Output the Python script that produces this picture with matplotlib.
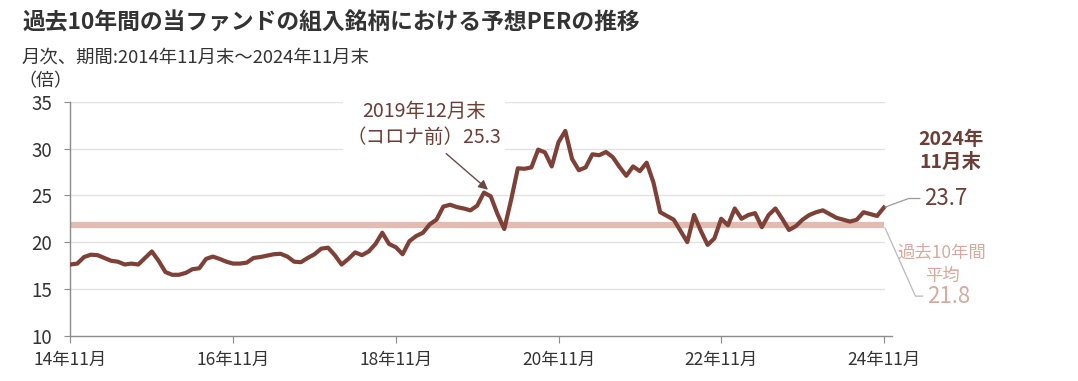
import matplotlib
matplotlib.use("Agg")
import matplotlib.pyplot as plt

plt.rcParams['font.family'] = ['Noto Sans CJK JP', 'DejaVu Sans']

# ---- data (monthly, 2014/11 - 2024/11) ----
per_values = [
    17.6, 17.7, 18.4, 18.65, 18.6, 18.3, 18.0, 17.9, 17.6, 17.7,   # m0-9
    17.6, 18.3, 19.0, 18.0, 16.8, 16.5, 16.5, 16.7, 17.1, 17.2,     # m10-19
    18.2, 18.45, 18.2, 17.9, 17.7, 17.7, 17.8, 18.3, 18.4, 18.55,   # m20-29
    18.7, 18.75, 18.45, 17.9, 17.85, 18.3, 18.7, 19.3, 19.4, 18.6,  # m30-39
    17.6, 18.2, 18.9, 18.6, 19.0, 19.8, 21.0, 19.8, 19.45, 18.7,    # m40-49
    20.1, 20.65, 21.0, 21.9, 22.4, 23.8, 24.0, 23.75, 23.6, 23.4,   # m50-59
    23.9, 25.3, 24.9, 23.0, 21.4, 24.5, 27.9, 27.85, 28.0, 29.9,    # m60-69
    29.6, 28.1, 30.7, 31.9, 28.9, 27.7, 28.0, 29.4, 29.3, 29.65,    # m70-79
    29.1, 28.05, 27.1, 28.1, 27.6, 28.5, 26.4, 23.2, 22.8, 22.4,    # m80-89
    21.2, 20.0, 22.9, 21.2, 19.7, 20.4, 22.5, 21.8, 23.6, 22.5,     # m90-99
    22.9, 23.1, 21.6, 22.9, 23.6, 22.5, 21.3, 21.7, 22.4, 22.9,     # m100-109
    23.2, 23.4, 23.0, 22.6, 22.4, 22.2, 22.4, 23.2, 23.0, 22.8,     # m110-119
    23.7,                                                           # m120
]
months = list(range(len(per_values)))
average_per = 21.8
xtick_months = [0, 24, 48, 72, 96, 120]
xtick_labels = ["14年11月", "16年11月", "18年11月", "20年11月", "22年11月", "24年11月"]
yticks = [10, 15, 20, 25, 30, 35]
precovid_month = 61
precovid_value = 25.3

title = "過去10年間の当ファンドの組入銘柄における予想PERの推移"
subtitle = "月次、期間:2014年11月末～2024年11月末"
unit = "（倍）"

LINE = "#7d4137"
AVG = "#e4bbb1"
AVG_TEXT = "#d6aa9f"
GRID = "#e2e2e2"
AXIS = "#8c8c8c"
TXT = "#333333"

fig = plt.figure(figsize=(10.78, 3.81), dpi=100)
ax = fig.add_axes([70 / 1078, 45.5 / 381, 822 / 1078, 233.5 / 381])

ax.set_xlim(-0.07, 121.2)
ax.set_ylim(10, 35)

for y in yticks[1:]:
    ax.plot([0, months[-1]], [y, y], color=GRID, lw=1.0, zorder=1)

ax.plot([0, months[-1]], [average_per, average_per], color=AVG, lw=4.5,
        solid_capstyle='butt', zorder=2)
ax.plot(months, per_values, color=LINE, lw=3.0, solid_joinstyle='round', zorder=3)

for s in ['top', 'right']:
    ax.spines[s].set_visible(False)
for s in ['left', 'bottom']:
    ax.spines[s].set_color(AXIS)
    ax.spines[s].set_linewidth(1.0)

ax.set_yticks(yticks)
ax.set_yticklabels([str(v) for v in yticks], fontsize=13.5, color=TXT)
ax.set_xticks(xtick_months)
ax.set_xticklabels(xtick_labels, fontsize=12.5, color=TXT)
ax.tick_params(axis='y', length=4, color=AXIS, pad=9)
ax.tick_params(axis='x', length=5, color=AXIS, pad=6)

fig.text(22 / 1078, 1 - 23 / 381, title, fontsize=16.4, fontweight='bold',
         color=TXT, va='center', ha='left')
fig.text(22 / 1078, 1 - 58 / 381, subtitle, fontsize=13.2, color=TXT,
         va='center', ha='left')
fig.text(18 / 1078, 1 - 81 / 381, unit, fontsize=13, color=TXT,
         va='center', ha='left')

# Pre-COVID annotation
ax.annotate("2019年12月末\n（コロナ前）25.3",
            xy=(precovid_month + 0.6, precovid_value + 0.3),
            xytext=(-46, 47), textcoords='offset points',
            ha='center', va='center', fontsize=14, color="#6b3e36",
            linespacing=1.3,
            bbox=dict(boxstyle='square,pad=0.2', fc='white', ec='none'),
            arrowprops=dict(arrowstyle='-|>', color="#6b4a44", lw=1.0,
                            relpos=(0.6, 0), shrinkA=2, shrinkB=0,
                            mutation_scale=14),
            zorder=5)

# Latest value labels
last_m = months[-1]
last_v = per_values[-1]
ax.annotate("2024年\n11月末", xy=(last_m, last_v), xytext=(48, 41),
            textcoords='offset points', ha='center', va='center',
            fontsize=14, fontweight='bold', color="#6b3e36",
            linespacing=1.25, annotation_clip=False)
ax.annotate(f"{last_v:.1f}", xy=(last_m, last_v), xytext=(29, 6.5),
            textcoords='offset points', ha='left', va='center',
            fontsize=16, color="#6b3e36", annotation_clip=False,
            arrowprops=dict(arrowstyle='-', color="#9a9a9a", lw=0.9,
                            relpos=(0, 0.5), shrinkA=1, shrinkB=1,
                            connectionstyle='angle,angleA=0,angleB=20,rad=0'))

ax.annotate("過去10年間\n平均", xy=(last_m, average_per), xytext=(42, -28),
            textcoords='offset points', ha='center', va='center',
            fontsize=12.5, color=AVG_TEXT, linespacing=1.35,
            annotation_clip=False)
ax.annotate(f"{average_per:.1f}", xy=(last_m, average_per), xytext=(31, -51),
            textcoords='offset points', ha='left', va='center',
            fontsize=16, color=AVG_TEXT, annotation_clip=False,
            arrowprops=dict(arrowstyle='-', color="#b9b9b9", lw=0.9,
                            relpos=(0, 0.5), shrinkA=1, shrinkB=2,
                            connectionstyle='angle,angleA=0,angleB=-66,rad=0'))

fig.savefig("out.png", dpi=100)
